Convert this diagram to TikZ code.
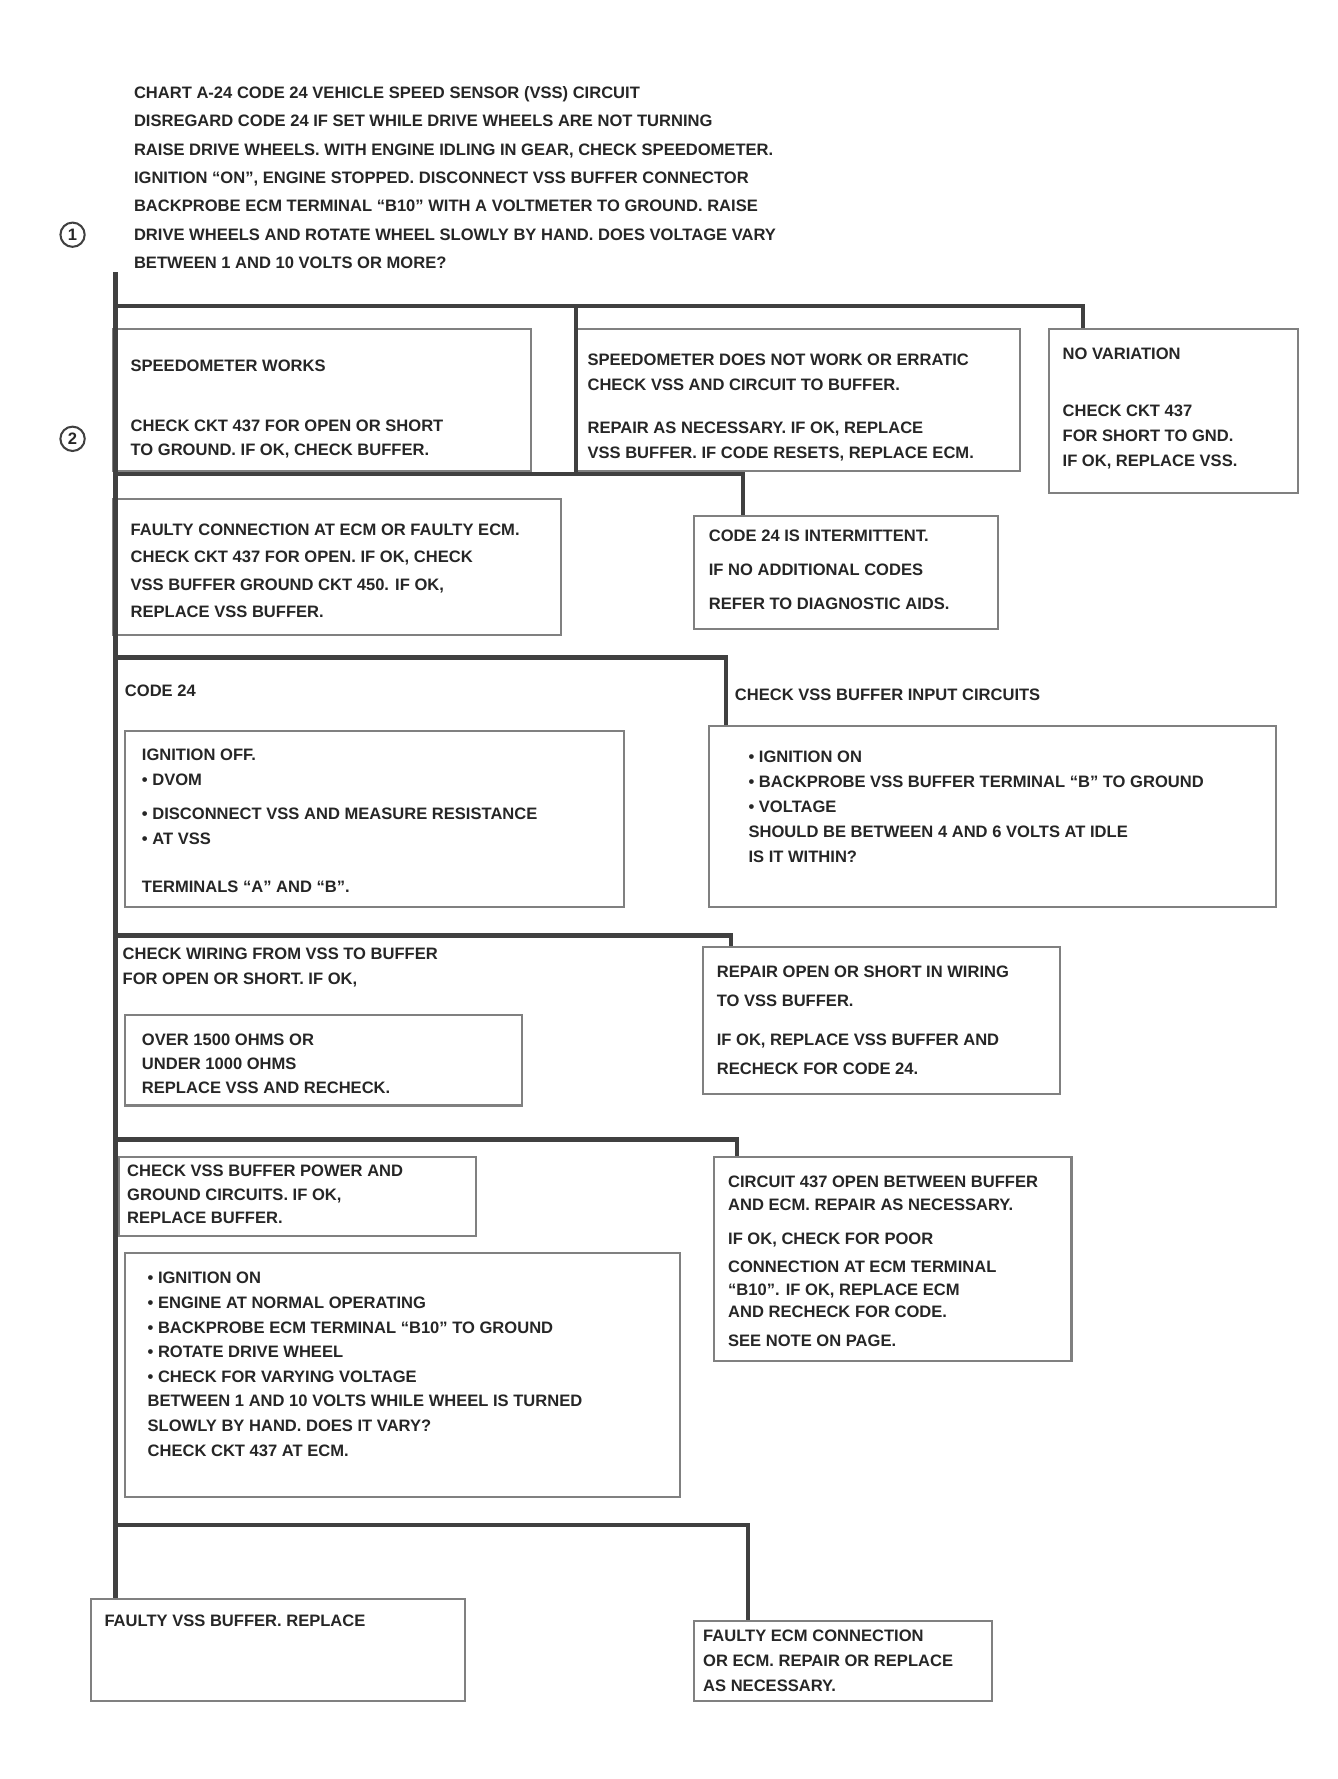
\documentclass[tikz,border=0pt]{standalone}
\usepackage{fontspec}
\setmainfont{Liberation Sans}
\newcommand{\fsz}[1]{\fontsize{14.6}{#1}\selectfont\bfseries}
\begin{document}
\begin{tikzpicture}[x=1pt,y=-1pt,
  flow/.style={line width=3.8pt, draw=black!75},
  boxst/.style={draw=black!50, line width=1.8pt, inner sep=0pt},
  txt/.style={anchor=north west, inner sep=0pt, align=left, text=black!85},
  num/.style={circle, draw=black!75, line width=1.8pt, inner sep=3pt, font=\fsz{18}, text=black!85}]
\useasboundingbox (0,0) rectangle (1180,1569);
\fill[white] (0,0) rectangle (1180,1569);

% ---------- boxes ----------
\node[boxst, minimum width=368pt, minimum height=125pt] (A) at (284,352.5) {};
\node[boxst, minimum width=392pt, minimum height=125pt] (B) at (704,352.5) {};
\node[boxst, minimum width=220pt, minimum height=145pt] (C) at (1035,362.5) {};
\node[boxst, minimum width=395pt, minimum height=120pt] (D) at (297.5,500) {};
\node[boxst, minimum width=268pt, minimum height=100pt] (E) at (746,505) {};
\node[boxst, minimum width=440pt, minimum height=155pt] (H) at (330,722.5) {};
\node[boxst, minimum width=500pt, minimum height=160pt] (I) at (875,720) {};
\node[boxst, minimum width=350pt, minimum height=80pt] (L) at (285,935) {};
\node[boxst, minimum width=315pt, minimum height=130pt] (K) at (777.5,900) {};
\node[boxst, minimum width=315pt, minimum height=70pt] (M) at (262.5,1055) {};
\node[boxst, minimum width=490pt, minimum height=215pt] (O) at (355,1212.5) {};
\node[boxst, minimum width=315pt, minimum height=180pt] (N) at (787.5,1110) {};
\node[boxst, minimum width=330pt, minimum height=90pt] (P) at (245,1455) {};
\node[boxst, minimum width=263pt, minimum height=70pt] (Q) at (743.5,1465) {};

% ---------- texts ----------
\node[txt, font=\fsz{25}] (T) at (118,76) {CHART A-24 CODE 24 VEHICLE SPEED SENSOR (VSS) CIRCUIT\\
DISREGARD CODE 24 IF SET WHILE DRIVE WHEELS ARE NOT TURNING\\
RAISE DRIVE WHEELS. WITH ENGINE IDLING IN GEAR, CHECK SPEEDOMETER.\\
IGNITION ``ON'', ENGINE STOPPED. DISCONNECT VSS BUFFER CONNECTOR\\
BACKPROBE ECM TERMINAL ``B10'' WITH A VOLTMETER TO GROUND. RAISE\\
DRIVE WHEELS AND ROTATE WHEEL SLOWLY BY HAND. DOES VOLTAGE VARY\\
BETWEEN 1 AND 10 VOLTS OR MORE?};
\node[num] (n1) at (64,207) {1};

\node[txt, font=\fsz{21}] (tA) at (115,317) {SPEEDOMETER WORKS\\[32pt]
CHECK CKT 437 FOR OPEN OR SHORT\\
TO GROUND. IF OK, CHECK BUFFER.};
\node[num] (n2) at (64,387) {2};

\node[txt, font=\fsz{22}] (tB) at (518,312) {SPEEDOMETER DOES NOT WORK OR ERRATIC\\
CHECK VSS AND CIRCUIT TO BUFFER.\\[16pt]
REPAIR AS NECESSARY. IF OK, REPLACE\\
VSS BUFFER. IF CODE RESETS, REPLACE ECM.};

\node[txt, font=\fsz{22}] (tC) at (937,307) {NO VARIATION\\[28pt]
CHECK CKT 437\\
FOR SHORT TO GND.\\
IF OK, REPLACE VSS.};

\node[txt, font=\fsz{24}] (tD) at (115,462) {FAULTY CONNECTION AT ECM OR FAULTY ECM.\\
CHECK CKT 437 FOR OPEN. IF OK, CHECK\\
VSS BUFFER GROUND CKT 450. IF OK,\\
REPLACE VSS BUFFER.};

\node[txt, font=\fsz{30}] (tE) at (625,467) {CODE 24 IS INTERMITTENT.\\
IF NO ADDITIONAL CODES\\
REFER TO DIAGNOSTIC AIDS.};

\node[txt, font=\fsz{22}] (tG) at (110,604) {CODE 24};
\node[txt, font=\fsz{22}] (tF) at (648,607) {CHECK VSS BUFFER INPUT CIRCUITS};

\node[txt, font=\fsz{22}] (tH) at (125,660) {IGNITION OFF.\\
• DVOM\\[8pt]
• DISCONNECT VSS AND MEASURE RESISTANCE\\
• AT VSS\\[21pt]
TERMINALS ``A'' AND ``B''.};

\node[txt, font=\fsz{22}] (tI) at (660,662) {• IGNITION ON\\
• BACKPROBE VSS BUFFER TERMINAL ``B'' TO GROUND\\
• VOLTAGE\\
SHOULD BE BETWEEN 4 AND 6 VOLTS AT IDLE\\
IS IT WITHIN?};

\node[txt, font=\fsz{22}] (tJ) at (108,836) {CHECK WIRING FROM VSS TO BUFFER\\
FOR OPEN OR SHORT. IF OK,};

\node[txt, font=\fsz{21}] (tL) at (125,912) {OVER 1500 OHMS OR\\
UNDER 1000 OHMS\\
REPLACE VSS AND RECHECK.};

\node[txt, font=\fsz{25}] (tK) at (632,852) {REPAIR OPEN OR SHORT IN WIRING\\
TO VSS BUFFER.\\[10pt]
IF OK, REPLACE VSS BUFFER AND\\
RECHECK FOR CODE 24.};

\node[txt, font=\fsz{21}] (tM) at (112,1027) {CHECK VSS BUFFER POWER AND\\
GROUND CIRCUITS. IF OK,\\
REPLACE BUFFER.};

\node[txt, font=\fsz{21.7}] (tO) at (130,1122) {• IGNITION ON\\
• ENGINE AT NORMAL OPERATING\\
• BACKPROBE ECM TERMINAL ``B10'' TO GROUND\\
• ROTATE DRIVE WHEEL\\
• CHECK FOR VARYING VOLTAGE\\
BETWEEN 1 AND 10 VOLTS WHILE WHEEL IS TURNED\\
SLOWLY BY HAND. DOES IT VARY?\\
CHECK CKT 437 AT ECM.};

\node[txt, font=\fsz{20}] (tN) at (642,1037) {CIRCUIT 437 OPEN BETWEEN BUFFER\\
AND ECM. REPAIR AS NECESSARY.\\[10pt]
IF OK, CHECK FOR POOR\\[5pt]
CONNECTION AT ECM TERMINAL\\
``B10''. IF OK, REPLACE ECM\\
AND RECHECK FOR CODE.\\[5pt]
SEE NOTE ON PAGE.};

\node[txt, font=\fsz{22}] (tP) at (92,1424) {FAULTY VSS BUFFER. REPLACE};

\node[txt, font=\fsz{22}] (tQ) at (620,1437) {FAULTY ECM CONNECTION\\
OR ECM. REPAIR OR REPLACE\\
AS NECESSARY.};

% ---------- junctions ----------
\coordinate (j0) at (102,240);
\coordinate (j1) at (102,270);
\coordinate (j1m) at (508,270);
\coordinate (j1r) at (955,270);
\coordinate (j2) at (102,418);
\coordinate (j2r) at (655,418);
\coordinate (j3) at (102,580);
\coordinate (j3r) at (640,580);
\coordinate (j4) at (102,825);
\coordinate (j4r) at (645,825);
\coordinate (j5) at (102,1005);
\coordinate (j5r) at (650,1005);
\coordinate (j6) at (102,1345);
\coordinate (j6r) at (660,1345);

% ---------- connectors ----------
\draw[flow] (j0) -- (j1) -- (j1r) -- (j1r |- C.north);
\draw[flow] (j1) -- (j1 |- A.north);
\draw[flow] (j1m) -- (j1m |- B.south);
\draw[flow] (j1 |- A.north) -- (j2);
\draw[flow] (j2) -- (j2r) -- (j2r |- E.north);
\draw[flow] (j2) -- (j2 |- D.north);
\draw[flow] (j2 |- D.north) -- (j3);
\draw[flow] (j3) -- (j3r) -- (j3r |- I.north);
\draw[flow] (j3) -- (j4);
\draw[flow] (j4) -- (j4r) -- (j4r |- K.north);
\draw[flow] (j4) -- (j5);
\draw[flow] (j5) -- (j5r) -- (j5r |- N.north);
\draw[flow] (j5) -- (j6);
\draw[flow] (j6) -- (j6r) -- (j6r |- Q.north);
\draw[flow] (j6) -- (j6 |- P.north);
\end{tikzpicture}
\end{document}
